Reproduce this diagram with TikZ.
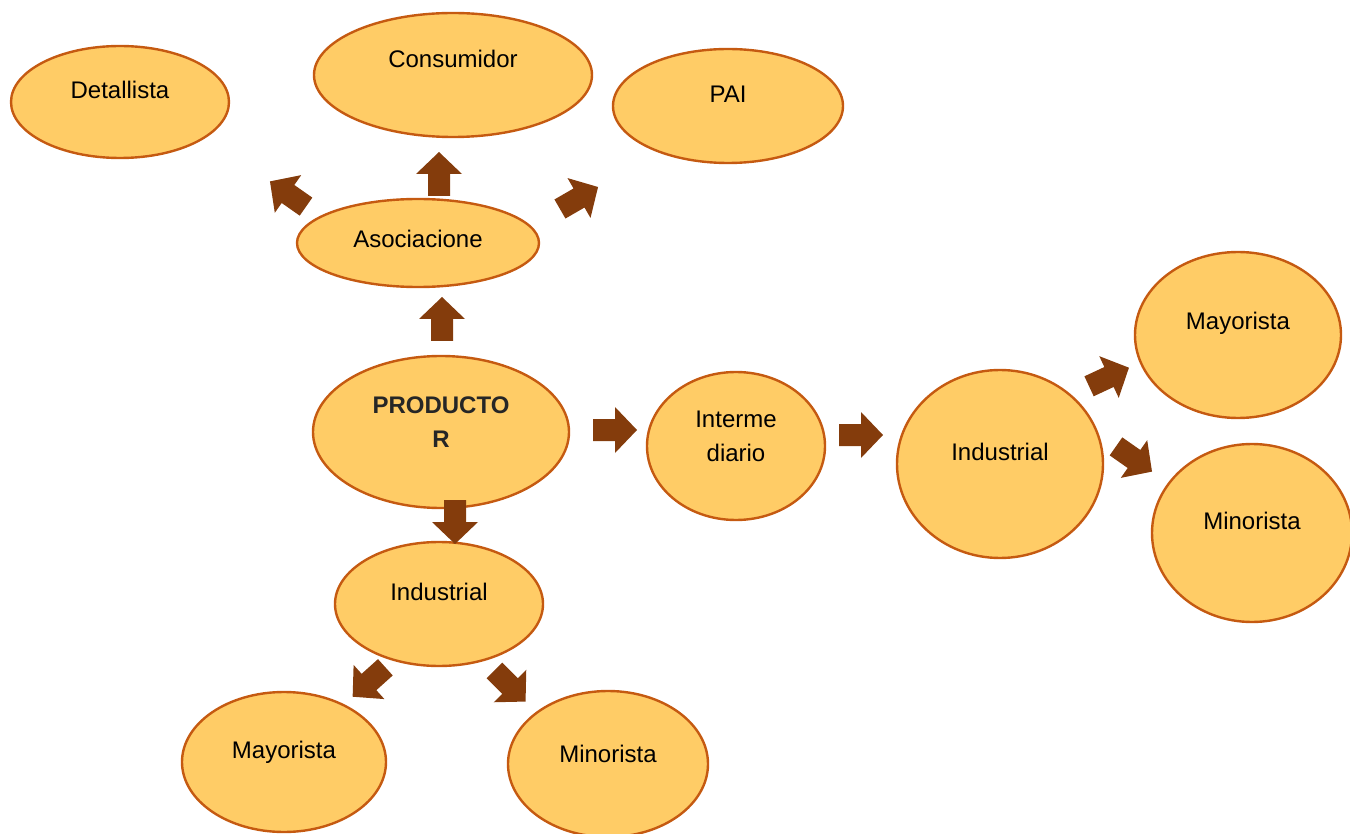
\documentclass[tikz,border=0pt]{standalone}
\usepackage{fontspec}
\setmainfont{Liberation Sans}
\usepackage{xcolor}
\usetikzlibrary{shapes.geometric}
\definecolor{bubblefill}{HTML}{FFCC66}
\definecolor{bubbleline}{HTML}{C55A11}
\definecolor{arrowbrown}{HTML}{843C0C}

\begin{document}
\begin{tikzpicture}[x=0.5pt, y=-0.5pt,
                bubble/.style={ellipse, draw=bubbleline, fill=bubblefill, line width=1.2pt, inner sep=0pt},
                txt/.style={font=\fontsize{12}{17}\selectfont, align=center},
                blkarrow/.pic={\fill[arrowbrown] (-22,-11) -- (0,-11) -- (0,-23) -- (22,0) -- (0,23) -- (0,11) -- (-22,11) -- cycle;}
            ]

            \useasboundingbox (0,0) rectangle (1350,834);

            % upper branch
            \node[bubble, minimum width=109pt, minimum height=56pt, label={[txt, yshift=6pt]center:Detallista}] (detallista) at (120,102) {};
            \node[bubble, minimum width=139pt, minimum height=62pt, label={[txt, yshift=8pt]center:Consumidor}] (consumidor) at (453,75) {};
            \node[bubble, minimum width=115pt, minimum height=57pt, label={[txt, yshift=6pt]center:PAI}] (pai) at (728,106) {};
            \node[bubble, minimum width=121pt, minimum height=44pt, label={[txt, yshift=2pt]center:Asociacione}] (asociacion) at (418,243) {};

            % centre
            \node[bubble, minimum width=128pt, minimum height=76pt, label={[txt, yshift=5pt, text=black!85, font=\fontsize{12}{17}\bfseries]center:PRODUCTO\\R}] (productor) at (441,432) {};
            \node[bubble, minimum width=89pt, minimum height=74pt, label={[txt, yshift=5pt]center:Interme\\diario}] (intermediario) at (736,446) {};

            % right branch
            \node[bubble, minimum width=103pt, minimum height=94pt, label={[txt, yshift=6pt]center:Industrial}] (industrialder) at (1000,464) {};
            \node[bubble, minimum width=103pt, minimum height=83pt, label={[txt, yshift=6pt]center:Mayorista}] (mayoristader) at (1238,335) {};
            \node[bubble, minimum width=100pt, minimum height=89pt, label={[txt, yshift=6pt]center:Minorista}] (minoristader) at (1252,533) {};

            % lower branch
            \node[bubble, minimum width=104pt, minimum height=62pt, label={[txt, yshift=6pt]center:Industrial}] (industrialinf) at (439,604) {};
            \node[bubble, minimum width=102pt, minimum height=70pt, label={[txt, yshift=5pt]center:Mayorista}] (mayoristainf) at (284,762) {};
            \node[bubble, minimum width=100pt, minimum height=73pt, label={[txt, yshift=5pt]center:Minorista}] (minoristainf) at (608,764) {};

            % block arrows
            \pic[rotate=90] at (439,174) {blkarrow};
            \pic[rotate=145] at (288,194) {blkarrow};
            \pic[rotate=30] at (579,198) {blkarrow};
            \pic[rotate=90] at (442,319) {blkarrow};
            \pic at (615,430) {blkarrow};
            \pic at (861,435) {blkarrow};
            \pic[rotate=25] at (1109,377) {blkarrow};
            \pic[rotate=-35] at (1134,459) {blkarrow};
            \pic[rotate=-90] at (455,522) {blkarrow};
            \pic[rotate=-138] at (369,682) {blkarrow};
            \pic[rotate=-45] at (510,686) {blkarrow};

        \end{tikzpicture}
\end{document}
